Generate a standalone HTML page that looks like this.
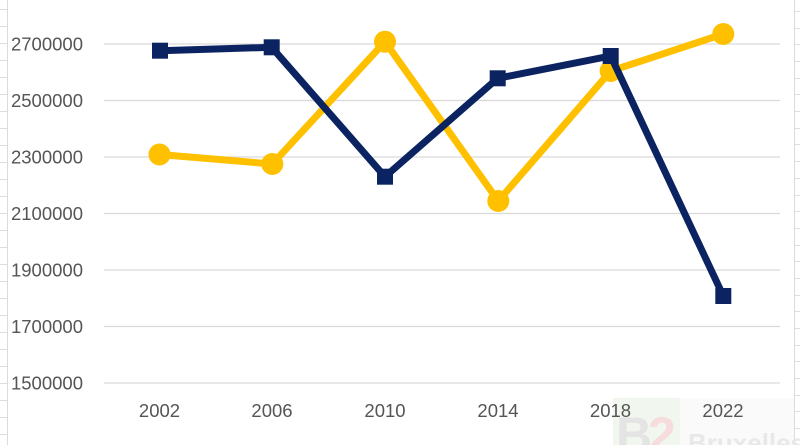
<!DOCTYPE html>
<html>
<head>
<meta charset="utf-8">
<style>
  html,body{margin:0;padding:0;background:#fff;}
  body{width:800px;height:445px;overflow:hidden;}
  svg{display:block;}
  text{font-family:"Liberation Sans",sans-serif;}
</style>
</head>
<body>
<svg width="800" height="445" viewBox="0 0 800 445" xmlns="http://www.w3.org/2000/svg">
  <rect x="0" y="0" width="800" height="445" fill="#ffffff"/>

  <!-- spreadsheet cell borders left -->
  <g stroke="#dcdcdc" stroke-width="1">
    <line x1="7.5" y1="0" x2="7.5" y2="445"/>
    <line x1="0" y1="9.5" x2="7" y2="9.5"/>
    <line x1="0" y1="26.5" x2="7" y2="26.5"/>
    <line x1="0" y1="43.5" x2="7" y2="43.5"/>
    <line x1="0" y1="60.5" x2="7" y2="60.5"/>
    <line x1="0" y1="77.5" x2="7" y2="77.5"/>
    <line x1="0" y1="94.5" x2="7" y2="94.5"/>
    <line x1="0" y1="111.5" x2="7" y2="111.5"/>
    <line x1="0" y1="128.5" x2="7" y2="128.5"/>
    <line x1="0" y1="145.5" x2="7" y2="145.5"/>
    <line x1="0" y1="162.5" x2="7" y2="162.5"/>
    <line x1="0" y1="179.5" x2="7" y2="179.5"/>
    <line x1="0" y1="196.5" x2="7" y2="196.5"/>
    <line x1="0" y1="213.5" x2="7" y2="213.5"/>
    <line x1="0" y1="230.5" x2="7" y2="230.5"/>
    <line x1="0" y1="247.5" x2="7" y2="247.5"/>
    <line x1="0" y1="264.5" x2="7" y2="264.5"/>
    <line x1="0" y1="281.5" x2="7" y2="281.5"/>
    <line x1="0" y1="298.5" x2="7" y2="298.5"/>
    <line x1="0" y1="315.5" x2="7" y2="315.5"/>
    <line x1="0" y1="332.5" x2="7" y2="332.5"/>
    <line x1="0" y1="349.5" x2="7" y2="349.5"/>
    <line x1="0" y1="366.5" x2="7" y2="366.5"/>
    <line x1="0" y1="383.5" x2="7" y2="383.5"/>
    <line x1="0" y1="400.5" x2="7" y2="400.5"/>
    <line x1="0" y1="417.5" x2="7" y2="417.5"/>
    <line x1="0" y1="434.5" x2="7" y2="434.5"/>
  </g>
  <!-- spreadsheet cell borders right -->
  <g stroke="#dcdcdc" stroke-width="1">
    <line x1="794.5" y1="0" x2="794.5" y2="445"/>
    <line x1="795" y1="11.5" x2="800" y2="11.5"/>
    <line x1="795" y1="28.5" x2="800" y2="28.5"/>
    <line x1="795" y1="44.5" x2="800" y2="44.5"/>
    <line x1="795" y1="61.5" x2="800" y2="61.5"/>
    <line x1="795" y1="78.5" x2="800" y2="78.5"/>
    <line x1="795" y1="94.5" x2="800" y2="94.5"/>
    <line x1="795" y1="111.5" x2="800" y2="111.5"/>
    <line x1="795" y1="128.5" x2="800" y2="128.5"/>
    <line x1="795" y1="144.5" x2="800" y2="144.5"/>
    <line x1="795" y1="161.5" x2="800" y2="161.5"/>
    <line x1="795" y1="178.5" x2="800" y2="178.5"/>
    <line x1="795" y1="195.5" x2="800" y2="195.5"/>
    <line x1="795" y1="211.5" x2="800" y2="211.5"/>
    <line x1="795" y1="228.5" x2="800" y2="228.5"/>
    <line x1="795" y1="245.5" x2="800" y2="245.5"/>
    <line x1="795" y1="261.5" x2="800" y2="261.5"/>
    <line x1="795" y1="278.5" x2="800" y2="278.5"/>
    <line x1="795" y1="295.5" x2="800" y2="295.5"/>
    <line x1="795" y1="311.5" x2="800" y2="311.5"/>
    <line x1="795" y1="328.5" x2="800" y2="328.5"/>
    <line x1="795" y1="345.5" x2="800" y2="345.5"/>
    <line x1="795" y1="361.5" x2="800" y2="361.5"/>
    <line x1="795" y1="378.5" x2="800" y2="378.5"/>
    <line x1="795" y1="395.5" x2="800" y2="395.5"/>
    <line x1="795" y1="411.5" x2="800" y2="411.5"/>
    <line x1="795" y1="428.5" x2="800" y2="428.5"/>
  </g>

  <!-- gridlines -->
  <g stroke="#d9d9d9" stroke-width="1.3">
    <line x1="104" y1="44" x2="780" y2="44"/>
    <line x1="104" y1="100.5" x2="780" y2="100.5"/>
    <line x1="104" y1="157" x2="780" y2="157"/>
    <line x1="104" y1="213.5" x2="780" y2="213.5"/>
    <line x1="104" y1="270" x2="780" y2="270"/>
    <line x1="104" y1="326.5" x2="780" y2="326.5"/>
    <line x1="104" y1="383" x2="780" y2="383"/>
  </g>

  <!-- y labels -->
  <g fill="#555555" font-size="18.5" text-anchor="end">
    <text x="83" y="50.5">2700000</text>
    <text x="83" y="107">2500000</text>
    <text x="83" y="163.5">2300000</text>
    <text x="83" y="220">2100000</text>
    <text x="83" y="276.5">1900000</text>
    <text x="83" y="333">1700000</text>
    <text x="83" y="389.5">1500000</text>
  </g>

  <!-- watermark -->
  <rect x="613" y="398" width="181" height="47" fill="#fafafa"/>
  <rect x="613" y="398" width="67" height="47" fill="#f1f6ef"/>
  <text x="616" y="452" font-size="50" font-weight="bold" fill="#e4e4e4">B</text>
  <text x="648" y="452" font-size="50" font-weight="bold" fill="#f6dcdc">2</text>
  <text x="688" y="452" font-size="26" font-weight="bold" fill="#e8e8e8">Bruxelles</text>

  <!-- x labels -->
  <g fill="#555555" font-size="18.5" text-anchor="middle">
    <text x="159.5" y="417">2002</text>
    <text x="272" y="417">2006</text>
    <text x="385" y="417">2010</text>
    <text x="498" y="417">2014</text>
    <text x="610.5" y="417">2018</text>
    <text x="723" y="417">2022</text>
  </g>

  <!-- yellow series -->
  <polyline fill="none" stroke="#FFC000" stroke-width="7" stroke-linejoin="round"
    points="159.5,154.5 272.3,164 385,41.7 498.3,201 610.7,71 723.3,34"/>
  <g fill="#FFC000">
    <circle cx="159.5" cy="154.5" r="11"/>
    <circle cx="272.3" cy="164" r="11"/>
    <circle cx="385" cy="41.7" r="11"/>
    <circle cx="498.3" cy="201" r="11"/>
    <circle cx="610.7" cy="71" r="11"/>
    <circle cx="723.3" cy="34" r="11"/>
  </g>

  <!-- navy series -->
  <polyline fill="none" stroke="#0B2461" stroke-width="7" stroke-linejoin="miter"
    points="160,50.7 271.7,47.3 385,176.7 497.7,78.3 610.7,56 723.3,296"/>
  <g fill="#0B2461">
    <rect x="152" y="42.7" width="16" height="16"/>
    <rect x="263.7" y="39.3" width="16" height="16"/>
    <rect x="377" y="168.7" width="16" height="16"/>
    <rect x="489.7" y="70.3" width="16" height="16"/>
    <rect x="602.7" y="48" width="16" height="16"/>
    <rect x="715.3" y="288" width="16" height="16"/>
  </g>
</svg>
</body>
</html>
